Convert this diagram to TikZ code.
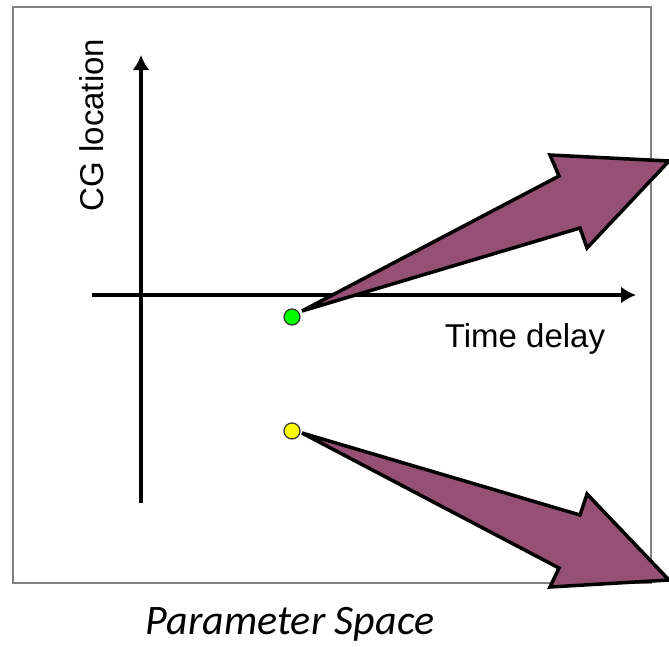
\documentclass[tikz,border=0pt]{standalone}
\usepackage{fontspec}
\setmainfont{Liberation Sans}
\newfontfamily\captionfont{Carlito}
\usepackage{tikz}
\usetikzlibrary{arrows.meta, positioning}
\definecolor{framegray}{RGB}{128,128,128}
\definecolor{bigarrow}{RGB}{149,80,115}
\definecolor{dotgreen}{RGB}{0,255,0}
\definecolor{dotyellow}{RGB}{255,255,0}

\begin{document}
\begin{tikzpicture}[
    x=1pt, y=-1pt,
    axis/.style={
        -{Latex[length=15pt,width=17pt]},
        line width=4pt,
        black
    },
    dot/.style={
        circle,
        draw=black!80,
        line width=1.2pt,
        minimum size=16pt,
        inner sep=0pt
    },
    fatarrow/.style={
        draw=black,
        fill=bigarrow,
        line width=3.5pt,
        line join=miter
    },
    label/.style={
        anchor=base,
        inner sep=0pt,
        font=\fontsize{33}{40}\selectfont
    }
]

% Page size and frame
\clip (0,0) rectangle (669,646);
\useasboundingbox (0,0) rectangle (669,646);
\draw[framegray, line width=2pt] (13,7) rectangle (651,583);

% Axes
\coordinate (yfoot) at (141,503);
\coordinate (ytip) at (141,55);
\coordinate (xfoot) at (92,295);
\coordinate (xtip) at (636,295);
\draw[axis] (yfoot) -- (ytip);
\draw[axis] (xfoot) -- (xtip);

% Axis labels
\node[label, rotate=90] (cglabel) at (103,125) {CG location};
\node[label] (tdlabel) at (525,347) {Time delay};

% Parameter points
\node[dot, fill=dotgreen] (green) at (292,317) {};
\node[dot, fill=dotyellow] (yellow) at (292,431) {};

% Big arrows (tail at the points)
\coordinate (uptail) at (302,311);
\draw[fatarrow] (uptail) -- (580,228) -- (587,248) -- (669,161)
    -- (550,155) -- (559,176) -- cycle;
\coordinate (lowtail) at (302,433);
\draw[fatarrow] (lowtail) -- (580,515) -- (587,494) -- (669,580)
    -- (550,587) -- (559,568) -- cycle;

% Caption
\node[anchor=base, inner sep=0pt, font=\captionfont\itshape\fontsize{42}{50}\selectfont]
    (caption) at (290,634) {Parameter Space};

\end{tikzpicture}
\end{document}
